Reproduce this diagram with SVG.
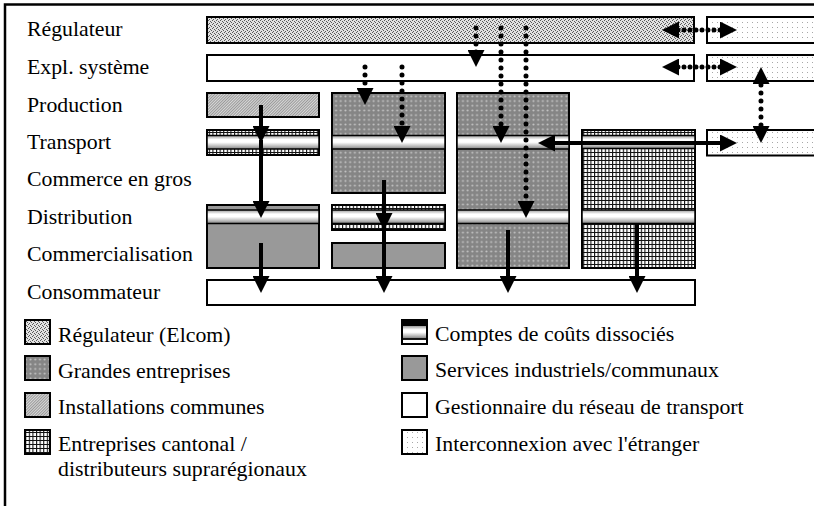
<svg xmlns="http://www.w3.org/2000/svg" width="814" height="506" viewBox="0 0 814 506" font-family="'Liberation Serif', 'Times New Roman', 'DejaVu Serif', serif">
<style>
text{font-family:"Liberation Serif","Times New Roman","DejaVu Serif",serif;font-size:21.8px;fill:#000}
.bx{stroke:#000;stroke-width:2}
.bd{fill:url(#gBand);stroke:#000;stroke-width:1.5}
.s{fill:none;stroke:#000;stroke-width:4;marker-end:url(#ah)}
.d{fill:none;stroke:#000;stroke-width:5;stroke-linecap:round;stroke-dasharray:0 8;marker-end:url(#ah)}
.dh{stroke-dasharray:0 6}
.two{marker-start:url(#ah)}
</style>
<defs>
<pattern id="pReg" width="4" height="4" patternUnits="userSpaceOnUse">
<rect width="4" height="4" fill="#e2e2e2"/>
<rect x="0" y="0" width="1" height="1" fill="#5a5a5a"/>
<rect x="2" y="1" width="1" height="1" fill="#5a5a5a"/>
<rect x="1" y="3" width="1" height="1" fill="#5a5a5a"/>
<rect x="3" y="2" width="1" height="1" fill="#5a5a5a"/>
</pattern>
<pattern id="pGE" width="4.7" height="4.7" patternUnits="userSpaceOnUse">
<rect width="4.7" height="4.7" fill="#858585"/>
<circle cx="2.35" cy="2.35" r="1.05" fill="#c4c4c4"/>
</pattern>
<pattern id="pIC" width="2" height="2" patternUnits="userSpaceOnUse" patternTransform="rotate(45)">
<rect width="2" height="2" fill="#d8d8d8"/>
<rect width="0.8" height="2" fill="#8a8a8a"/>
</pattern>
<pattern id="pEC" width="3.6" height="4" patternUnits="userSpaceOnUse">
<rect width="3.6" height="4" fill="#fff"/>
<rect width="1.1" height="4" fill="#111"/>
<rect width="3.6" height="1" fill="#111"/>
</pattern>
<pattern id="pIX" width="5" height="5" patternUnits="userSpaceOnUse">
<rect width="5" height="5" fill="#fff"/>
<rect x="2" y="2" width="1" height="1" fill="#a8a8a8"/>
</pattern>
<linearGradient id="gBand" x1="0" y1="0" x2="0" y2="1">
<stop offset="0" stop-color="#9a9a9a"/>
<stop offset="0.3" stop-color="#fff"/>
<stop offset="0.5" stop-color="#fff"/>
<stop offset="0.8" stop-color="#b8b8b8"/>
<stop offset="1" stop-color="#808080"/>
</linearGradient>
<marker id="ah" viewBox="0 0 17 17" markerWidth="17" markerHeight="17" refX="7" refY="8.5" orient="auto-start-reverse" markerUnits="userSpaceOnUse">
<path d="M0,0 L17,8.5 L0,17 Z" fill="#000"/>
</marker>
</defs>

<path id="frame" d="M5,506 V4.5 H814" fill="none" stroke="#000" stroke-width="2.5"/>

<g id="row-labels">
<text x="27" y="36">Régulateur</text>
<text x="27" y="74">Expl. système</text>
<text x="27" y="111.5">Production</text>
<text x="27" y="148.5">Transport</text>
<text x="27" y="186">Commerce en gros</text>
<text x="27" y="223.5">Distribution</text>
<text x="27" y="261">Commercialisation</text>
<text x="27" y="298.5">Consommateur</text>
</g>

<g id="regulateur"><rect class="bx" x="207" y="17" width="487" height="26" fill="url(#pReg)"/></g>
<g id="expl-systeme"><rect class="bx" x="207" y="55" width="487" height="26" fill="#fff"/></g>
<g id="interco-regulateur"><rect class="bx" x="707" y="17" width="120" height="26" fill="url(#pIX)"/></g>
<g id="interco-expl"><rect class="bx" x="707" y="55" width="120" height="26" fill="url(#pIX)"/></g>
<g id="interco-transport"><rect class="bx" x="707" y="130" width="120" height="25.5" fill="url(#pIX)"/></g>

<g id="col1-production"><rect class="bx" x="207" y="93" width="112" height="24" fill="url(#pIC)"/></g>
<g id="col1-transport">
<rect class="bx" x="207" y="130" width="112" height="25" fill="url(#pEC)"/>
<rect class="bd" x="207" y="135.5" width="112" height="13.5"/>
</g>
<g id="col1-distribution">
<rect class="bx" x="207" y="205" width="112" height="63" fill="#999"/>
<rect class="bd" x="207" y="210" width="112" height="13.5"/>
</g>

<g id="col2-grande-entreprise">
<rect class="bx" x="332" y="93" width="113" height="100" fill="url(#pGE)"/>
<rect class="bd" x="332" y="135.5" width="113" height="13.5"/>
</g>
<g id="col2-distribution">
<rect class="bx" x="332" y="205" width="113" height="25" fill="url(#pEC)"/>
<rect class="bd" x="332" y="210" width="113" height="13.5"/>
</g>
<g id="col2-commercialisation"><rect class="bx" x="332" y="243" width="113" height="25" fill="#999"/></g>

<g id="col3-grande-entreprise">
<rect class="bx" x="457" y="93" width="112" height="175" fill="url(#pGE)"/>
<rect class="bd" x="457" y="135.5" width="112" height="13.5"/>
<rect class="bd" x="457" y="210" width="112" height="13.5"/>
</g>

<g id="col4-entreprise-cantonale">
<rect class="bx" x="582" y="130" width="113" height="138" fill="url(#pEC)"/>
<rect class="bd" x="582" y="135.5" width="113" height="13"/>
<rect class="bd" x="582" y="210" width="113" height="13.5"/>
</g>

<g id="consommateur"><rect class="bx" x="207" y="280" width="488" height="25" fill="#fff"/></g>

<g id="connectors">
<path class="s" d="M261,105 V133"/>
<path class="s" d="M261,140 V208"/>
<path class="s" d="M261,243 V283"/>
<path class="s" d="M384,180 V220"/>
<path class="s" d="M384,226 V283"/>
<path class="s" d="M508,230 V283"/>
<path class="s" d="M637,223 V283"/>
<path class="s two" d="M548,143 H727"/>
<path class="d" d="M365,67 V95"/>
<path class="d" d="M402,67 V133"/>
<path class="d" d="M476,28 V57"/>
<path class="d" d="M501,28 V133"/>
<path class="d" d="M526,28 V208"/>
<path class="d dh two" d="M672,30 H727"/>
<path class="d dh two" d="M672,67 H727"/>
<path class="d two" d="M761,77 V133"/>
</g>

<g id="legend-regulateur">
<rect class="bx" x="25" y="320" width="25" height="24" fill="url(#pReg)"/>
<text x="58" y="341.5">Régulateur (Elcom)</text>
</g>
<g id="legend-grandes-entreprises">
<rect class="bx" x="25" y="356" width="25" height="24" fill="url(#pGE)"/>
<text x="58" y="377.5">Grandes entreprises</text>
</g>
<g id="legend-installations">
<rect class="bx" x="25" y="393" width="25" height="24" fill="url(#pIC)"/>
<text x="58" y="413.5">Installations communes</text>
</g>
<g id="legend-cantonal">
<rect class="bx" x="25" y="430" width="25" height="24" fill="url(#pEC)"/>
<text x="58" y="450.5">Entreprises cantonal /</text>
<text x="58" y="475.5">distributeurs suprarégionaux</text>
</g>
<g id="legend-comptes">
<rect class="bx" x="402" y="320" width="25" height="24" fill="#fff"/>
<rect x="402" y="320" width="25" height="6" fill="#000"/>
<rect x="403" y="326" width="23" height="12.5" fill="url(#gBand)"/>
<line x1="402" y1="339" x2="427" y2="339" stroke="#000" stroke-width="1.8"/>
<text x="435" y="341">Comptes de coûts dissociés</text>
</g>
<g id="legend-services">
<rect class="bx" x="402" y="356" width="25" height="24" fill="#999"/>
<text x="435" y="377">Services industriels/communaux</text>
</g>
<g id="legend-gestionnaire">
<rect class="bx" x="402" y="393" width="25" height="24" fill="#fff"/>
<text x="435" y="413.5">Gestionnaire du réseau de transport</text>
</g>
<g id="legend-interconnexion">
<rect class="bx" x="402" y="430" width="25" height="24" fill="url(#pIX)"/>
<text x="435" y="450.5">Interconnexion avec l'étranger</text>
</g>
</svg>
